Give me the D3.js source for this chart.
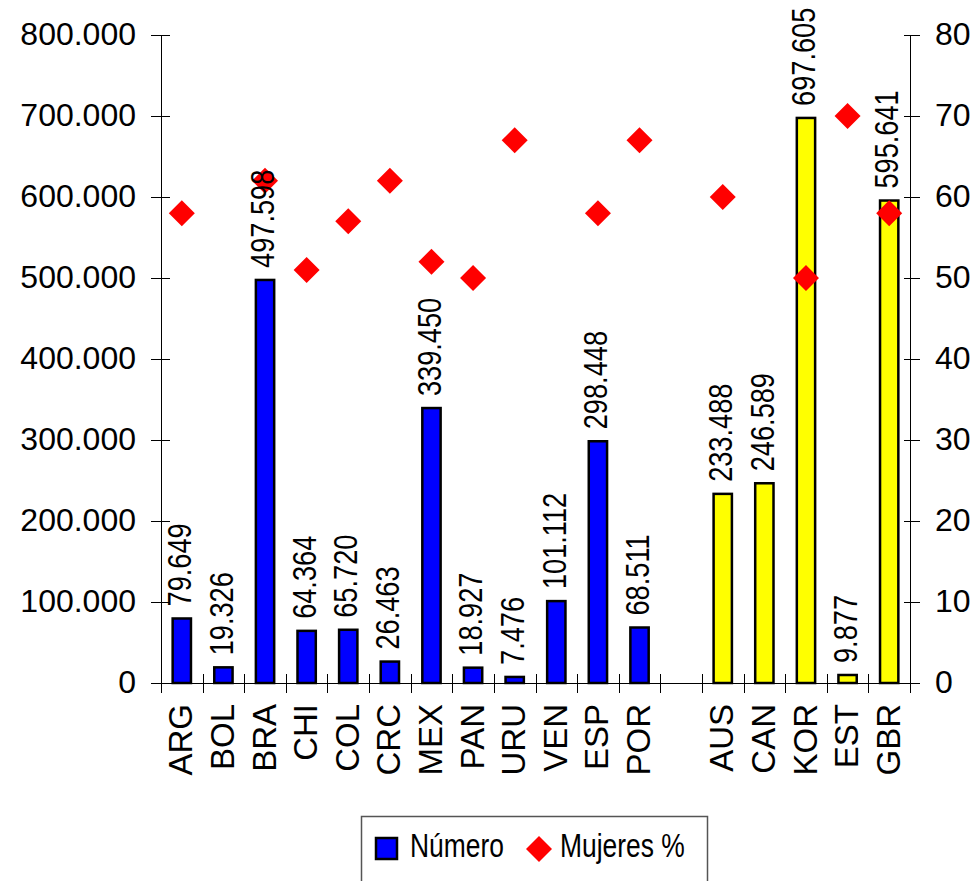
<!DOCTYPE html>
<html>
<head>
<meta charset="utf-8">
<script src="https://cdn.jsdelivr.net/npm/d3@7"></script>
<style>
  html, body { margin: 0; padding: 0; background: #fff; }
  svg { display: block; }
</style>
</head>
<body>
<svg id="chart" width="974" height="881"></svg>
<script>
// ---- data ----
const categories = ["ARG","BOL","BRA","CHI","COL","CRC","MEX","PAN","URU","VEN","ESP","POR","","AUS","CAN","KOR","EST","GBR"];
const groups     = ["A","A","A","A","A","A","A","A","A","A","A","A","","B","B","B","B","B"];
const numero     = [79649,19326,497598,64364,65720,26463,339450,18927,7476,101112,298448,68511,null,233488,246589,697605,9877,595641];
const mujeres    = [58,null,62,51,57,62,52,50,67,null,58,67,null,60,null,50,70,58];
const leftTicks  = [0,100000,200000,300000,400000,500000,600000,700000,800000];
const rightTicks = [0,10,20,30,40,50,60,70,80];
const seriesNames = ["Número","Mujeres %"];

const groupColor = {A: "#0000FF", B: "#FFFF00"};

const svg = d3.select("#chart");
const locale = d3.formatLocale({decimal: ",", thousands: ".", grouping: [3], currency: ["", ""]});
const fmt = locale.format(",");

const plot = {left: 161, right: 910, top: 35, bottom: 683};
const x = d3.scaleBand().domain(categories.map((c, i) => i)).range([plot.left, plot.right]).paddingInner(0.56).paddingOuter(0.28);
const step = x.step();
const yL = d3.scaleLinear().domain([0, 800000]).range([plot.bottom, plot.top]);
const yR = d3.scaleLinear().domain([0, 80]).range([plot.bottom, plot.top]);

const axisFont = "'Liberation Sans', Arial, sans-serif";
const narrowScale = 0.8; // emulate Arial Narrow

const data = categories.map((c, i) => ({i, c, g: groups[i], n: numero[i], m: mujeres[i]}));

// bars
svg.append("g").selectAll("rect").data(data.filter(d => d.n != null)).join("rect")
  .attr("x", d => x(d.i))
  .attr("y", d => yL(d.n))
  .attr("width", x.bandwidth())
  .attr("height", d => yL(0) - yL(d.n))
  .attr("fill", d => groupColor[d.g])
  .attr("stroke", "#000")
  .attr("stroke-width", 2.5);

// left axis
const gL = svg.append("g").attr("transform", `translate(${plot.left},0)`)
  .call(d3.axisLeft(yL).tickValues(leftTicks).tickSize(10).tickFormat(fmt));
gL.select(".domain").attr("stroke", "#000").attr("d", `M0.5,${plot.top}V${plot.bottom}`);
gL.selectAll(".tick line").attr("x1", 9).attr("x2", -10).attr("stroke", "#000");
gL.selectAll(".tick text").attr("x", -25).attr("dy", "0.3em")
  .attr("font-family", axisFont).attr("font-size", 32).attr("fill", "#000");

// right axis
const gR = svg.append("g").attr("transform", `translate(${plot.right},0)`)
  .call(d3.axisRight(yR).tickValues(rightTicks).tickSize(10));
gR.select(".domain").attr("stroke", "#000").attr("d", `M0.5,${plot.top}V${plot.bottom}`);
gR.selectAll(".tick line").attr("x1", -6).attr("x2", 10).attr("stroke", "#000");
gR.selectAll(".tick text").attr("x", 25).attr("dy", "0.3em")
  .attr("font-family", axisFont).attr("font-size", 32).attr("fill", "#000");

// bottom axis
const gB = svg.append("g");
gB.append("line").attr("x1", plot.left).attr("x2", plot.right)
  .attr("y1", plot.bottom + 0.5).attr("y2", plot.bottom + 0.5).attr("stroke", "#000");
gB.selectAll("line.tk").data(d3.range(categories.length + 1)).join("line").attr("class", "tk")
  .attr("x1", i => Math.round(plot.left + i * step) + 0.5)
  .attr("x2", i => Math.round(plot.left + i * step) + 0.5)
  .attr("y1", plot.bottom - 9).attr("y2", plot.bottom + 10)
  .attr("stroke", "#000");
gB.selectAll("text").data(data).join("text")
  .attr("transform", d => `translate(${x(d.i) + x.bandwidth() / 2},${plot.bottom + 21}) rotate(-90)`)
  .attr("text-anchor", "end")
  .attr("dy", "0.32em")
  .attr("font-family", axisFont).attr("font-size", 33).attr("fill", "#000")
  .text(d => d.c);

// diamonds
const dia = "M0,-13L13,0L0,13L-13,0Z";
svg.append("g").selectAll("path").data(data.filter(d => d.m != null)).join("path")
  .attr("d", dia)
  .attr("transform", d => `translate(${x(d.i) + x.bandwidth() / 2},${yR(d.m)})`)
  .attr("fill", "#FF0000");

// value labels
svg.append("g").selectAll("text").data(data.filter(d => d.n != null)).join("text")
  .attr("transform", d => `translate(${x(d.i) + x.bandwidth() / 2},${yL(d.n) - 12}) rotate(-90) scale(${narrowScale},1)`)
  .attr("text-anchor", "start")
  .attr("dy", "0.27em")
  .attr("font-family", axisFont).attr("font-size", 34).attr("fill", "#000")
  .text(d => fmt(d.n));

// legend
const lg = svg.append("g");
lg.append("rect").attr("x", 361.5).attr("y", 816.5).attr("width", 346).attr("height", 90)
  .attr("fill", "#fff").attr("stroke", "#555").attr("stroke-width", 1.5);
lg.append("rect").attr("x", 376).attr("y", 838).attr("width", 21).attr("height", 21)
  .attr("fill", groupColor.A).attr("stroke", "#000").attr("stroke-width", 2.5);
lg.append("text").attr("transform", `translate(410,857) scale(${narrowScale},1)`)
  .attr("font-family", axisFont).attr("font-size", 33).attr("fill", "#000").text(seriesNames[0]);
lg.append("path").attr("d", dia).attr("transform", "translate(539,849)").attr("fill", "#FF0000");
lg.append("text").attr("transform", `translate(560,857) scale(${narrowScale},1)`)
  .attr("font-family", axisFont).attr("font-size", 33).attr("fill", "#000").text(seriesNames[1]);
</script>
</body>
</html>
